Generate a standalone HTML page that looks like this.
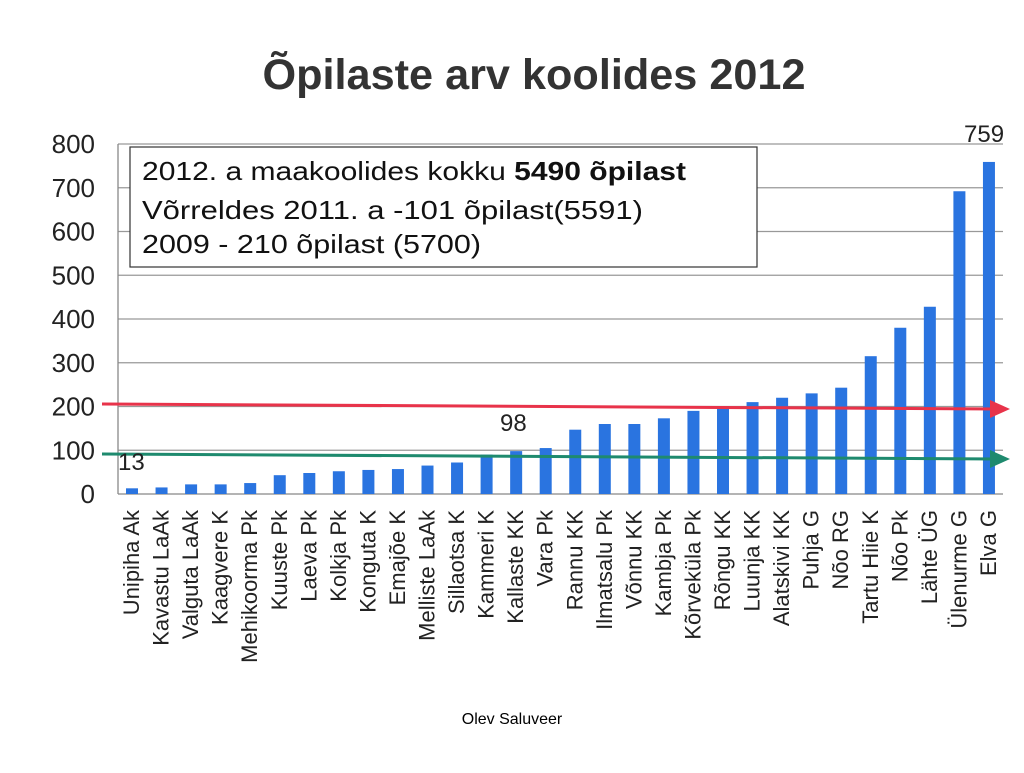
<!DOCTYPE html>
<html><head><meta charset="utf-8"><style>
body{margin:0;width:1024px;height:768px;background:#fff;overflow:hidden;font-family:"Liberation Sans",sans-serif}
</style></head><body>
<svg width="1024" height="768" id="svg">
<text x="534" y="89" text-anchor="middle" font-size="43" font-weight="bold" fill="#333" textLength="543" lengthAdjust="spacingAndGlyphs">Õpilaste arv koolides 2012</text>
<g id="grid"></g><g id="bars"></g><g id="labels"></g>
<rect x="130" y="147" width="627" height="120" fill="#fff" stroke="#333" stroke-width="1.2"/>
<text x="142" y="180" font-size="26" fill="#111" textLength="544" lengthAdjust="spacingAndGlyphs">2012. a maakoolides kokku  <tspan font-weight="bold">5490 õpilast</tspan></text>
<text x="142" y="219" font-size="26" fill="#111" textLength="501" lengthAdjust="spacingAndGlyphs">Võrreldes 2011. a   -101 õpilast(5591)</text>
<text x="142" y="253" font-size="26" fill="#111" textLength="339" lengthAdjust="spacingAndGlyphs">2009  - 210 õpilast (5700)</text>
<line x1="102" y1="404" x2="998" y2="409" stroke="#e8334a" stroke-width="3"/>
<polygon points="990,400 1010,409 990,418" fill="#e8334a"/>
<line x1="102" y1="454" x2="998" y2="459" stroke="#1e8a6e" stroke-width="3"/>
<polygon points="990,450 1010,459 990,468" fill="#1e8a6e"/>
<text x="118" y="470" font-size="24" fill="#222">13</text>
<text x="500" y="431" font-size="24" fill="#222">98</text>
<text x="964" y="142" font-size="24" fill="#222">759</text>
<text x="512" y="724" text-anchor="middle" font-size="16" fill="#000">Olev Saluveer</text>
</svg>
<script>
const categories=["Unipiha  Ak","Kavastu LaAk","Valguta LaAk","Kaagvere K","Mehikoorma Pk","Kuuste Pk","Laeva Pk","Kolkja Pk","Konguta K","Emajõe K","Melliste LaAk","Sillaotsa K","Kammeri K","Kallaste KK","Vara Pk","Rannu KK","Ilmatsalu Pk","Võnnu KK","Kambja Pk","Kõrveküla Pk","Rõngu KK","Luunja KK","Alatskivi KK","Puhja G","Nõo RG","Tartu Hiie K","Nõo Pk","Lähte ÜG","Ülenurme G","Elva G"];
const values=[13,15,22,22,25,43,48,52,55,57,65,72,90,98,105,147,160,160,173,190,198,210,220,230,243,315,380,428,692,759];
const ticks=[0,100,200,300,400,500,600,700,800];
const NS="http://www.w3.org/2000/svg";
const y=v=>494-v*0.4375;
const x=i=>132+i*29.55;
const g=document.getElementById('grid'),b=document.getElementById('bars'),l=document.getElementById('labels');
function mk(tag,a,p){const e=document.createElementNS(NS,tag);for(const k in a)e.setAttribute(k,a[k]);p.appendChild(e);return e;}
ticks.forEach(t=>{
 const ln=mk('line',{x1:118,x2:1003,y1:y(t),y2:y(t),stroke:t===0?'#888':'#999','stroke-width':1.3},g);
 
 
 const tx=mk('text',{x:95,y:y(t)+9,'text-anchor':'end','font-size':26,fill:'#222'},g);
 tx.textContent=t;
 
 
});
const ax=mk('line',{x1:118,x2:118,y1:y(800),y2:y(0),stroke:'#888','stroke-width':1.3},g);


values.forEach((v,i)=>{
 const r=mk('rect',{x:x(i)-6,y:y(v),width:12,height:y(0)-y(v),fill:'#2a74e0'},b);
 
 
 const t=mk('text',{x:0,y:0,'text-anchor':'end','font-size':22,fill:'#222',transform:`translate(${x(i)+7},510) rotate(-90)`},l);
 t.textContent=categories[i];
 
 
});
</script>
</body></html>
